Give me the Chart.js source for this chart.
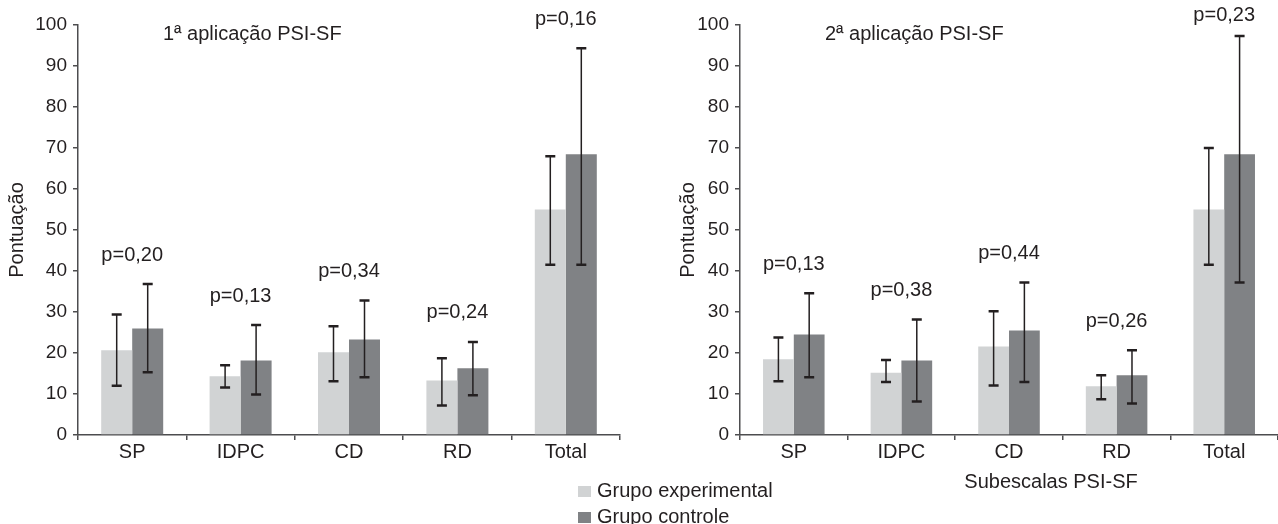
<!DOCTYPE html>
<html>
<head>
<meta charset="utf-8">
<script src="https://cdn.jsdelivr.net/npm/chart.js@4.4.1/dist/chart.umd.min.js"></script>
<style>
  html, body { margin: 0; padding: 0; background: #fff; }
  #wrap { position: relative; width: 1278px; height: 524px; overflow: hidden;
          font-family: "Liberation Sans", Arial, sans-serif; color: #231f20; }
  #left { position: absolute; left: 0; top: 0; }
  #right { position: absolute; left: 640px; top: 0; }
  #legend { position: absolute; left: 578px; top: 477px; font-size: 20px; line-height: 26px; }
  #legend .box { display: inline-block; width: 13px; height: 11px; margin-right: 6px; }
</style>
</head>
<body>
<div id="wrap">
  <canvas id="left" width="640" height="524"></canvas>
  <canvas id="right" width="638" height="524"></canvas>
  <div id="legend"></div>
</div>
<script>
// categorias e séries
const categories = ["SP", "IDPC", "CD", "RD", "Total"];
const seriesNames = ["Grupo experimental", "Grupo controle"];
const seriesColors = ["#d1d3d4", "#808285"];

// 1ª aplicação PSI-SF
const app1Exp = [20.7, 14.3, 20.2, 13.3, 55.0];
const app1ExpLow = [12.0, 11.6, 13.1, 7.2, 41.5];
const app1ExpHigh = [29.4, 17.0, 26.5, 18.7, 68.0];
const app1Ctrl = [26.0, 18.2, 23.3, 16.3, 68.5];
const app1CtrlLow = [15.3, 9.9, 14.1, 9.7, 41.5];
const app1CtrlHigh = [36.8, 26.8, 32.8, 22.7, 94.3];
const app1P = ["p=0,20", "p=0,13", "p=0,34", "p=0,24", "p=0,16"];

// 2ª aplicação PSI-SF
const app2Exp = [18.5, 15.2, 21.6, 11.9, 55.0];
const app2ExpLow = [13.1, 12.9, 12.1, 8.7, 41.5];
const app2ExpHigh = [23.8, 18.3, 30.2, 14.6, 70.0];
const app2Ctrl = [24.5, 18.2, 25.5, 14.6, 68.5];
const app2CtrlLow = [14.1, 8.2, 12.9, 7.7, 37.2];
const app2CtrlHigh = [34.6, 28.2, 37.2, 20.7, 97.3];
const app2P = ["p=0,13", "p=0,38", "p=0,44", "p=0,26", "p=0,23"];

const yMin = 0, yMax = 100, yStep = 10;

const textColor = "#231f20";
const axisColor = "#4d4d4f";
const fontFamily = "'Liberation Sans', Arial, sans-serif";
Chart.defaults.font.family = fontFamily;
Chart.defaults.color = textColor;

// barras de erro
const errorBars = {
  id: "errorBars",
  afterDatasetsDraw(chart) {
    const ctx = chart.ctx;
    const y = chart.scales.y;
    chart.data.datasets.forEach((ds, i) => {
      chart.getDatasetMeta(i).data.forEach((bar, j) => {
        const top = y.getPixelForValue(ds.errHigh[j]);
        const bot = y.getPixelForValue(ds.errLow[j]);
        ctx.save();
        ctx.strokeStyle = textColor;
        ctx.lineWidth = 1.5;
        ctx.beginPath();
        ctx.moveTo(bar.x, top);
        ctx.lineTo(bar.x, bot);
        ctx.stroke();
        ctx.lineWidth = 2.5;
        ctx.beginPath();
        ctx.moveTo(bar.x - 5, top); ctx.lineTo(bar.x + 5, top);
        ctx.moveTo(bar.x - 5, bot); ctx.lineTo(bar.x + 5, bot);
        ctx.stroke();
        ctx.restore();
      });
    });
  }
};

// textos: título do painel, valores de p, título do eixo x
const annotations = {
  id: "annotations",
  afterDraw(chart, args, opts) {
    const ctx = chart.ctx;
    const area = chart.chartArea;
    const x = chart.scales.x, y = chart.scales.y;
    ctx.save();
    ctx.fillStyle = textColor;
    ctx.font = "20px " + fontFamily;
    ctx.textBaseline = "middle";

    ctx.textAlign = "left";
    ctx.fillText(opts.title, area.left + 85, area.top + 9);

    ctx.textAlign = "center";
    opts.pValues.forEach((txt, i) => {
      const tops = chart.data.datasets.map((ds) => y.getPixelForValue(ds.errHigh[i]));
      const py = Math.max(Math.min(...tops) - 29, 15);
      ctx.fillText(txt, x.getPixelForValue(i), py);
    });

    if (opts.xTitle) {
      ctx.fillText(opts.xTitle, (area.left + area.right) / 2 + 42, 482);
    }
    ctx.restore();
  }
};

function makeChart(id, exp, expLow, expHigh, ctrl, ctrlLow, ctrlHigh, pVals, title, xTitle, yWidth, pad) {
  return new Chart(document.getElementById(id), {
    type: "bar",
    data: {
      labels: categories,
      datasets: [
        { label: seriesNames[0], data: exp, errLow: expLow, errHigh: expHigh,
          backgroundColor: seriesColors[0], borderWidth: 0 },
        { label: seriesNames[1], data: ctrl, errLow: ctrlLow, errHigh: ctrlHigh,
          backgroundColor: seriesColors[1], borderWidth: 0 }
      ]
    },
    options: {
      responsive: false,
      animation: false,
      layout: { padding: pad },
      datasets: { bar: { categoryPercentage: 0.572, barPercentage: 1 } },
      scales: {
        x: {
          grid: { display: true, drawOnChartArea: false, drawTicks: true, tickLength: 5,
                  color: axisColor, lineWidth: 1.5, offset: true },
          border: { display: true, color: axisColor, width: 1.5 },
          ticks: { font: { size: 20 }, color: textColor, padding: 0 },
          afterFit: (scale) => { scale.height = 89; }
        },
        y: {
          min: yMin, max: yMax,
          grid: { display: true, drawOnChartArea: false, drawTicks: true, tickLength: 5,
                  color: axisColor, lineWidth: 1.5 },
          border: { display: true, color: axisColor, width: 1.5 },
          ticks: { stepSize: yStep, font: { size: 19 }, color: textColor, padding: 6 },
          title: { display: true, text: "Pontuação", font: { size: 20 }, color: textColor,
                   padding: { top: 5, bottom: 0 } },
          afterFit: (scale) => { scale.width = yWidth; }
        }
      },
      plugins: {
        legend: { display: false },
        tooltip: { enabled: false },
        annotations: { title: title, pValues: pVals, xTitle: xTitle }
      }
    },
    plugins: [errorBars, annotations]
  });
}

const chart1 = makeChart("left", app1Exp, app1ExpLow, app1ExpHigh, app1Ctrl, app1CtrlLow, app1CtrlHigh,
  app1P, "1ª aplicação PSI-SF", null, 78, { top: 25, left: 0, right: 20, bottom: 0 });
const chart2 = makeChart("right", app2Exp, app2ExpLow, app2ExpHigh, app2Ctrl, app2CtrlLow, app2CtrlHigh,
  app2P, "2ª aplicação PSI-SF", "Subescalas PSI-SF", 69, { top: 25, left: 31, right: 0, bottom: 0 });

// legenda em HTML a partir dos datasets
const legend = document.getElementById("legend");
chart1.data.datasets.forEach((ds) => {
  const row = document.createElement("div");
  row.innerHTML = '<span class="box" style="background:' + ds.backgroundColor + '"></span>' + ds.label;
  legend.appendChild(row);
});
</script>
</body>
</html>
